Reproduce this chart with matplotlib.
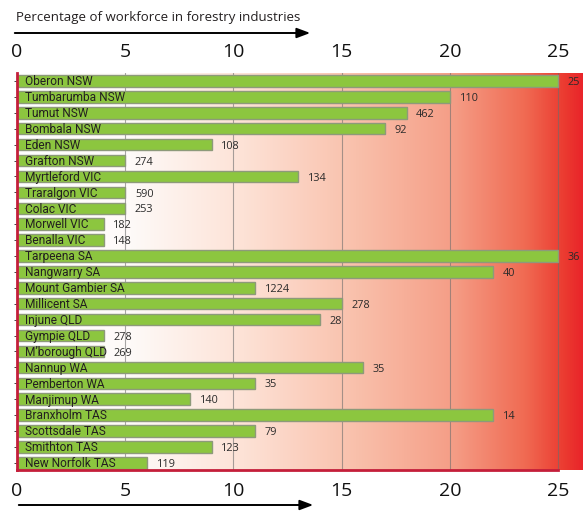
import numpy as np
import matplotlib
matplotlib.use('Agg')
import matplotlib.pyplot as plt
from matplotlib.colors import LinearSegmentedColormap

plt.rcParams['font.family'] = ['Open Sans', 'DejaVu Sans']

# data
towns = ['Oberon NSW', 'Tumbarumba NSW', 'Tumut NSW', 'Bombala NSW', 'Eden NSW',
         'Grafton NSW', 'Myrtleford VIC', 'Traralgon VIC', 'Colac VIC', 'Morwell VIC',
         'Benalla VIC', 'Tarpeena SA', 'Nangwarry SA', 'Mount Gambier SA', 'Millicent SA',
         'Injune QLD', 'Gympie QLD', "M\u2019borough QLD", 'Nannup WA', 'Pemberton WA',
         'Manjimup WA', 'Branxholm TAS', 'Scottsdale TAS', 'Smithton TAS', 'New Norfolk TAS']
percent = [25, 20, 18, 17, 9, 5, 13, 5, 5, 4, 4, 25, 22, 11, 15, 14, 4, 4, 16, 11,
           8, 22, 11, 9, 6]
workers = [25, 110, 462, 92, 108, 274, 134, 590, 253, 182, 148, 36, 40, 1224, 278,
           28, 278, 269, 35, 35, 140, 14, 79, 123, 119]
ticks = [0, 5, 10, 15, 20, 25]

W, H = 583, 511
fig = plt.figure(figsize=(W / 100, H / 100), dpi=100)
ax = fig.add_axes([17 / W, 1 - 470 / H, 1 - 17 / W, (470 - 73) / H])

xmax = 25 + (583 - 558) / 21.64
n = len(towns)
ax.set_xlim(0, xmax)
ax.set_ylim(n - 0.55, -0.5)

# white -> red background
cmap = LinearSegmentedColormap.from_list('bg', [
    (0.0, '#ffffff'), (0.2, '#fefaf8'), (0.4, '#fde2d6'), (0.6, '#f9c0ab'),
    (0.77, '#f59e87'), (0.9, '#f06a52'), (0.97, '#eb3a30'), (1.0, '#e9252a')])
grad = np.linspace(0, 1, 256).reshape(1, -1)
ax.imshow(grad, cmap=cmap, aspect='auto', extent=[0, xmax, n - 0.55, -0.5], zorder=0)

for t in ticks[1:]:
    ax.axvline(t, color='#6d6d6d', lw=0.8, alpha=0.6, zorder=1)

y = np.arange(n)
ax.barh(y, percent, height=0.72, color='#8cc63f', edgecolor='#8d9a7a', lw=1, zorder=2)

for i in range(n):
    ax.annotate(towns[i], (0, y[i]), xytext=(5.5, -0.6), textcoords='offset points',
                va='center', ha='left', fontsize=8.6, color='#231f20', zorder=3,
                family=['Roboto', 'DejaVu Sans'])
    ax.annotate(str(workers[i]), (percent[i], y[i]), xytext=(7, -1.2), textcoords='offset points',
                va='center', ha='left', fontsize=7.8, color='#2a2a2a', zorder=3,
                annotation_clip=False)

ax.set_yticks(y)
ax.set_yticklabels([])
ax.tick_params(axis='y', length=2, width=0.7, color='#444444', left=True)
ax.set_xticks(ticks)
ax.set_xticklabels([str(t) for t in ticks])
ax.tick_params(axis='x', length=0, labelsize=14, top=True, labeltop=True,
               labelcolor='#111111', pad=9)

for s in ['right', 'top']:
    ax.spines[s].set_visible(False)
ax.spines['left'].set_color('#c41e3a')
ax.spines['left'].set_linewidth(2)
ax.spines['bottom'].set_color('#c41e3a')
ax.spines['bottom'].set_linewidth(2)
ax.spines['bottom'].set_bounds(0, 25)

fig.text(16 / W, 1 - 18 / H, 'Percentage of workforce in forestry industries',
         fontsize=9.5, color='#231f20', va='center', ha='left')
ax.annotate('', xy=(313 / W, 1 - 33 / H), xytext=(12 / W, 1 - 33 / H),
            xycoords='figure fraction', textcoords='figure fraction',
            arrowprops=dict(arrowstyle='-|>,head_length=0.8,head_width=0.3', color='black', lw=1.4))
ax.annotate('', xy=(316 / W, 1 - 505 / H), xytext=(16 / W, 1 - 505 / H),
            xycoords='figure fraction', textcoords='figure fraction',
            arrowprops=dict(arrowstyle='-|>,head_length=0.8,head_width=0.3', color='black', lw=1.4))

fig.savefig('out.png', dpi=100)
